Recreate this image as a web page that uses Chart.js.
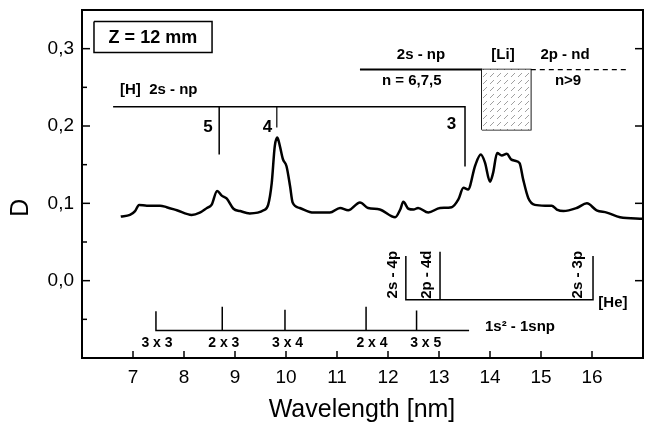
<!DOCTYPE html>
<html><head><meta charset="utf-8">
<script src="https://cdn.jsdelivr.net/npm/chart.js@4.4.1/dist/chart.umd.min.js"></script>
<style>html,body{margin:0;padding:0;background:#fff}</style>
</head><body>
<canvas id="c" width="646" height="426"></canvas>
<script>
// ---- spectrum data ----
const wavelength = [6.76,6.94,7.04,7.12,7.27,7.53,7.66,7.86,8.15,8.31,8.45,8.54,8.65,8.74,8.84,8.97,9.10,9.29,9.56,9.65,9.72,9.78,9.83,9.88,9.94,10.01,10.08,10.13,10.27,10.54,10.86,11.06,11.22,11.45,11.61,11.84,12.14,12.24,12.30,12.40,12.50,12.59,12.79,13.02,13.25,13.38,13.48,13.57,13.71,13.82,13.90,14.00,14.06,14.14,14.23,14.33,14.41,14.49,14.58,14.65,14.75,14.88,15.08,15.21,15.31,15.44,15.70,15.90,16.09,16.29,16.55,17.00];
const density = [0.083,0.085,0.090,0.098,0.097,0.097,0.095,0.091,0.085,0.088,0.094,0.098,0.116,0.110,0.106,0.093,0.090,0.087,0.091,0.098,0.126,0.174,0.185,0.174,0.157,0.148,0.122,0.101,0.094,0.088,0.088,0.094,0.091,0.101,0.094,0.092,0.082,0.092,0.102,0.093,0.092,0.094,0.088,0.094,0.095,0.105,0.120,0.118,0.149,0.163,0.153,0.128,0.139,0.165,0.162,0.164,0.157,0.155,0.152,0.131,0.107,0.098,0.097,0.097,0.092,0.090,0.094,0.100,0.091,0.088,0.082,0.080];

// ---- tick values ----
const xTickValues = [7,8,9,10,11,12,13,14,15,16];
const yTickLabels = ['0,0','0,1','0,2','0,3'];
const yTickValues = [0.0,0.1,0.2,0.3];

// ---- line-identification markers (data coordinates) ----
const hSeriesX = [6.61,13.51,13.51];      const hSeriesY = [0.225,0.225,0.1475];
const h5X = [8.69,8.69];                  const h5Y = [0.225,0.163];
const h4X = [9.82,9.82];                  const h4Y = [0.225,0.198];
const liSolidX = [11.45,13.84];           const liSolidY = [0.273,0.273];
const liDashX = [14.80,16.69];            const liDashY = [0.273,0.273];
const liBoxX = [13.84,13.84,14.80,14.80,13.84]; const liBoxY = [0.195,0.273,0.273,0.195,0.195];
const liFillX = [13.84,14.80];            const liFillY = [0.273,0.273];
const liFillBase = 0.195;
const heMainX = [12.35,12.35,16.02,16.02]; const heMainY = [0.032,-0.0246,-0.0246,0.032];
const he4dX = [13.02,13.02];              const he4dY = [0.0375,-0.0246];
const hsMainX = [7.45,7.45,13.59];        const hsMainY = [-0.0397,-0.0643,-0.0643];
const hsTickX = [8.75,9.98,11.57,12.56];
const hsTickTop = [-0.0336,-0.0375,-0.0336,-0.0387];
const hsBase = -0.0643;
const zBoxX = [6.235,8.55,8.55,6.235,6.235]; const zBoxY = [0.335,0.335,0.295,0.295,0.335];

// ---- annotation texts (data coordinates) ----
const labelTexts = ['Z = 12 mm','[H]  2s - np','5','4','3','2s - np','[Li]','2p - nd','n = 6,7,5','n>9','2s - 4p','2p - 4d','2s - 3p','[He]','1s\u00B2 - 1snp','3 x 3','2 x 3','3 x 4','2 x 4','3 x 5'];
const labelX = [7.39,6.745,8.47,9.637,13.245,12.647,14.255,15.47,12.465,15.53,12.10,12.765,15.725,16.41,14.588,7.47,8.78,10.03,11.686,12.74];
const labelY = [0.3143,0.247,0.198,0.198,0.2018,0.2924,0.2924,0.2924,0.258,0.258,0.0078,0.0078,0.0078,-0.0285,-0.0595,-0.0809,-0.0809,-0.0809,-0.0809,-0.0809];
const xTitle = 'Wavelength [nm]'; const xTitlePos = [11.49,-0.1669];
const yTitle = 'D'; const yTitlePos = [4.80,0.0944];

const FONT = '"Liberation Sans", Arial, Helvetica, sans-serif';
const pts = (xs, ys) => xs.map((v,i)=>({x:v,y:ys[i]}));
const seg = (data, extra) => Object.assign({data, borderColor:'#000', borderWidth:1.5, pointRadius:0, tension:0, fill:false}, extra||{});

// hatch pattern
const pc = document.createElement('canvas'); pc.width = 7; pc.height = 7;
const pctx = pc.getContext('2d');
pctx.fillStyle = '#fff'; pctx.fillRect(0,0,7,7);
pctx.strokeStyle = '#777'; pctx.lineWidth = 0.7;
pctx.beginPath(); pctx.moveTo(0,7); pctx.lineTo(4,3); pctx.stroke();
const hatch = pctx.createPattern(pc, 'repeat');

const datasets = [
  seg(pts(liFillX, liFillY), {borderWidth:0, fill:{value:liFillBase}, backgroundColor:hatch}),
  {data: pts(wavelength, density), borderColor:'#000', borderWidth:2.5, pointRadius:0, cubicInterpolationMode:'monotone', fill:false},
  seg(pts(hSeriesX,hSeriesY)),
  seg(pts(h5X,h5Y)),
  seg(pts(h4X,h4Y), {borderWidth:1.2}),
  seg(pts(liSolidX,liSolidY), {borderWidth:2}),
  seg(pts(liDashX,liDashY), {borderWidth:1.2, borderDash:[5,4]}),
  seg(pts(liBoxX,liBoxY), {borderWidth:1.5}),
  seg(pts(heMainX,heMainY)),
  seg(pts(he4dX,he4dY)),
  seg(pts(hsMainX,hsMainY)),
  seg(pts(zBoxX,zBoxY), {borderWidth:1.5})
];
hsTickX.forEach((v,i)=>datasets.push(seg([{x:v,y:hsTickTop[i]},{x:v,y:hsBase}])));

const isMajorY = v => Math.abs(v*10 - Math.round(v*10)) < 1e-6;

const overlay = {
  id:'overlay',
  afterDraw(chart){
    const {ctx, chartArea:a, scales:{x,y}} = chart;
    ctx.save();
    ctx.strokeStyle = '#000';
    ctx.lineWidth = 2;
    ctx.strokeRect(a.left, a.top, a.right-a.left, a.bottom-a.top);
    ctx.lineWidth = 1.5;
    const line = (x1,y1,x2,y2)=>{ctx.beginPath();ctx.moveTo(x1,y1);ctx.lineTo(x2,y2);ctx.stroke();};
    xTickValues.forEach(v=>{const px=x.getPixelForValue(v); line(px,a.bottom,px,a.bottom-7);});
    y.ticks.forEach(t=>{
      const py = y.getPixelForValue(t.value);
      if (py <= a.top+1 || py >= a.bottom-1) return;
      const major = isMajorY(t.value);
      line(a.left,py,a.left+(major?8:5),py);
    });
    yTickValues.forEach(v=>{const py=y.getPixelForValue(v); line(a.right,py,a.right-8,py);});
    // texts
    ctx.fillStyle = '#000';
    ctx.textBaseline = 'middle';
    labelTexts.forEach((txt,i)=>{
      let size = 15;
      if (i===0) size = 18;
      else if (i>=2 && i<=4) size = 17;
      else if (i>=15) size = 14;
      ctx.font = 'bold ' + size + 'px ' + FONT;
      const px = x.getPixelForValue(labelX[i]);
      const py = y.getPixelForValue(labelY[i]);
      ctx.textAlign = (i===1) ? 'left' : 'center';
      if (i>=10 && i<=12) {
        ctx.save(); ctx.translate(px,py); ctx.rotate(-Math.PI/2);
        ctx.fillText(txt,0,0); ctx.restore();
      } else {
        ctx.fillText(txt,px,py);
      }
    });
    ctx.font = '25px ' + FONT;
    ctx.textAlign = 'center';
    ctx.fillText(xTitle, x.getPixelForValue(xTitlePos[0]), y.getPixelForValue(xTitlePos[1]));
    ctx.save();
    ctx.translate(x.getPixelForValue(yTitlePos[0]), y.getPixelForValue(yTitlePos[1]));
    ctx.rotate(-Math.PI/2);
    ctx.fillText(yTitle,0,0);
    ctx.restore();
    ctx.restore();
  }
};

new Chart(document.getElementById('c'), {
  type:'line',
  data:{datasets},
  options:{
    responsive:false,
    animation:false,
    events:[],
    layout:{padding:{top:10,right:3,left:0,bottom:0}},
    plugins:{legend:{display:false}, tooltip:{enabled:false}},
    scales:{
      x:{type:'linear', min:6, max:17,
         ticks:{stepSize:1, padding:8, color:'#000', font:{family:FONT,size:19},
                callback:v=> xTickValues.includes(v) ? String(v) : ''},
         grid:{display:false, drawTicks:false}, border:{display:false},
         afterFit:s=>{s.height=68; s.paddingLeft=0; s.paddingRight=0;}},
      y:{type:'linear', min:-0.1, max:0.35,
         ticks:{stepSize:0.05, padding:8, color:'#000', font:{family:FONT,size:19},
                callback:v=>{const k=yTickValues.findIndex(t=>Math.abs(t-v)<1e-6); return k>=0?yTickLabels[k]:'';}},
         grid:{display:false, drawTicks:false}, border:{display:false},
         afterFit:s=>{s.width=82; s.paddingTop=0; s.paddingBottom=0;}}
    }
  },
  plugins:[overlay]
});
</script>
</body></html>
